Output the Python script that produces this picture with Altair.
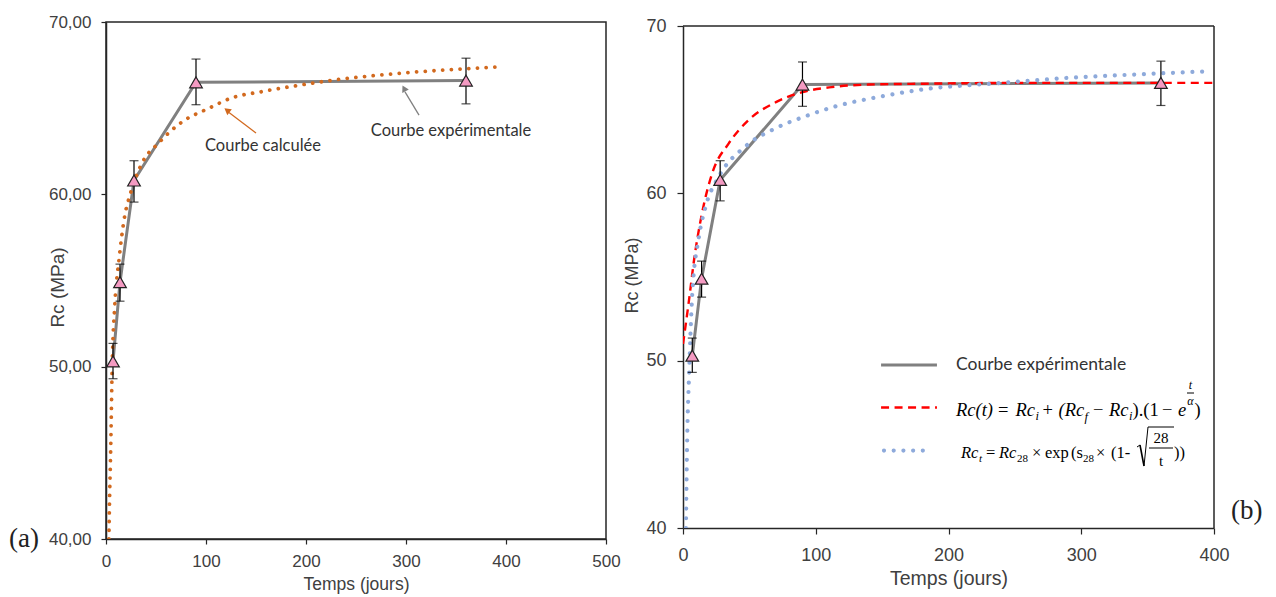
import altair as alt
import pandas as pd

# ---------------- data ----------------
days = [7, 14, 28, 90, 360]
rc_exp = [50.3, 54.9, 60.8, 66.5, 66.6]
rc_lo = [49.3, 53.8, 59.55, 65.2, 65.25]
rc_hi = [51.35, 55.95, 61.95, 67.85, 67.9]

# left panel: calculated curve (orange dotted)
calc_t = [2.9, 3.3, 4.7, 6.3, 8.7, 13, 18, 24.7, 36, 53, 76, 103, 126, 155, 190, 230, 270, 310, 350, 395]
calc_v = [40.0, 41.5, 45.2, 50.3, 53.5, 56.2, 58.5, 60.1, 61.8, 63.0, 64.2, 65.0, 65.6, 65.95, 66.3, 66.65, 66.9, 67.1, 67.25, 67.4]

# right panel: exponential model (red dashed)
red_t = [0, 4.5, 8.3, 14.3, 22, 34.6, 49.7, 70, 90, 112, 140, 180, 250, 320, 400]
red_v = [51.0, 53.6, 56.0, 58.8, 61.2, 63.0, 64.4, 65.45, 66.05, 66.35, 66.5, 66.55, 66.6, 66.6, 66.6]

# right panel: sqrt model (blue dotted)
blue_t = [2.2, 3.2, 4.5, 7, 12, 17, 27, 47, 70, 92, 115, 150, 180, 240, 290, 340, 398]
blue_v = [40.0, 45.5, 49.0, 54.0, 57.4, 59.2, 61.0, 62.8, 63.9, 64.6, 65.2, 65.8, 66.2, 66.6, 66.9, 67.1, 67.3]

left_x_ticks = [0, 100, 200, 300, 400, 500]
right_x_ticks = [0, 100, 200, 300, 400]
y_ticks = [40, 50, 60, 70]

GRAY = "#808080"
ORANGE = "#d2691e"
RED = "#ff0000"
BLUE = "#8eaadb"
PINK = "#f49ac2"
INK = "#404040"
FRAME = "#262626"

exp_df = pd.DataFrame({"t": days, "v": rc_exp, "lo": rc_lo, "hi": rc_hi})
calc_df = pd.DataFrame({"t": calc_t, "v": calc_v})
red_df = pd.DataFrame({"t": red_t, "v": red_v})
blue_df = pd.DataFrame({"t": blue_t, "v": blue_v})
ONE = pd.DataFrame({"k": [0]})


def make_x(domain, ticks, lab, tit, lpad, ty, tsize):
    scale = alt.Scale(domain=domain, nice=False, zero=False)
    axis = alt.Axis(values=ticks, title="Temps (jours)", grid=False, labelFlush=False,
                    labelFont="Liberation Sans", titleFont="Liberation Sans",
                    labelFontSize=lab, titleFontSize=tit, titleFontWeight="normal",
                    labelColor=INK, titleColor=INK, tickColor=FRAME, domainColor=FRAME,
                    domainWidth=1.5, tickSize=tsize, tickWidth=1.2, labelPadding=lpad,
                    titleY=ty, titleBaseline="middle")
    return scale, axis


def make_y(ticks, lab, tit, lpad, tx, ty, tsize, rng=None, label_expr=None):
    if rng:
        scale = alt.Scale(domain=[40, 70], nice=False, zero=False, range=rng)
    else:
        scale = alt.Scale(domain=[40, 70], nice=False, zero=False)
    kw = dict(values=ticks, title="Rc (MPa)", grid=False, labelFlush=False,
              labelFont="Liberation Sans", titleFont="Liberation Sans",
              labelFontSize=lab, titleFontSize=tit, titleFontWeight="normal",
              labelColor=INK, titleColor=INK, tickColor=FRAME, domainColor=FRAME,
              domainWidth=1.5, tickSize=tsize, tickWidth=1.2, labelPadding=lpad,
              titleX=tx, titleY=ty, titleBaseline="middle")
    if label_expr:
        kw["labelExpr"] = label_expr
    return scale, alt.Axis(**kw)


def txt(s, x, y, size, font="Liberation Serif", style="italic", align="left",
        baseline="alphabetic", color="#000000"):
    return alt.Chart(ONE).mark_text(text=s, font=font, fontSize=size, fontStyle=style,
                                    align=align, baseline=baseline, color=color
                                    ).encode(x=alt.value(x), y=alt.value(y))


def seg(x1, y1, x2, y2, color="#000000", width=1.0):
    return alt.Chart(ONE).mark_rule(color=color, strokeWidth=width).encode(
        x=alt.value(x1), y=alt.value(y1), x2=alt.value(x2), y2=alt.value(y2))


def panel_layers(xs, xa, ys, ya, curves):
    X = lambda f: alt.X(f, type="quantitative", scale=xs, axis=xa)
    Y = lambda f: alt.Y(f, type="quantitative", scale=ys, axis=ya)
    exp_line = alt.Chart(exp_df).mark_line(color=GRAY, strokeWidth=3).encode(x=X("t"), y=Y("v"))
    layers = [exp_line]
    for df, style in curves:
        layers.append(alt.Chart(df).mark_line(clip=True, interpolate="monotone", **style)
                      .encode(x=X("t"), y=Y("v")))
    bars = alt.Chart(exp_df).mark_rule(color="#000000", strokeWidth=1.2).encode(
        x=X("t"), y=Y("lo"), y2="hi")
    cap_lo = alt.Chart(exp_df).mark_tick(color="#000000", orient="horizontal", size=9,
                                         thickness=1.2).encode(x=X("t"), y=Y("lo"))
    cap_hi = alt.Chart(exp_df).mark_tick(color="#000000", orient="horizontal", size=9,
                                         thickness=1.2).encode(x=X("t"), y=Y("hi"))
    tri = alt.Chart(exp_df).mark_point(shape="triangle-up", filled=True, fill=PINK,
                                       stroke="#222222", strokeWidth=1.2, size=160,
                                       opacity=1).encode(x=X("t"), y=Y("v"))
    return layers + [bars, cap_lo, cap_hi, tri], X, Y


# ---------------- left panel ----------------
lxs, lxa = make_x([0, 500], left_x_ticks, 17, 17.5, 9, 45, 5)
lys, lya = make_y(y_ticks, 17, 19, 10, -49, 265, 5,
                  label_expr="replace(format(datum.value, '.2f'), '.', ',')")
orange_style = dict(color=ORANGE, strokeWidth=3.8, strokeDash=[0.01, 8.7], strokeCap="round")
llayers, LX, LY = panel_layers(lxs, lxa, lys, lya, [(calc_df, orange_style)])

ann_left = pd.DataFrame({"t": [157, 345], "v": [62.8, 63.67],
                         "label": ["Courbe calculée", "Courbe expérimentale"]})
arrow_df = pd.DataFrame({"t": [150, 313], "v": [63.56, 64.6], "t2": [123, 299], "v2": [64.75, 65.95]})
head_o = pd.DataFrame({"t": [121], "v": [64.88]})
head_g = pd.DataFrame({"t": [298], "v": [66.15]})

left_ann = [
    alt.Chart(ann_left).mark_text(font="Lato", fontSize=16.5, color="#333333").encode(
        x=LX("t"), y=LY("v"), text="label:N"),
    alt.Chart(arrow_df.iloc[[0]]).mark_rule(color=ORANGE, strokeWidth=1.3).encode(
        x=LX("t"), y=LY("v"), x2="t2", y2="v2"),
    alt.Chart(arrow_df.iloc[[1]]).mark_rule(color=GRAY, strokeWidth=1.3).encode(
        x=LX("t"), y=LY("v"), x2="t2", y2="v2"),
    alt.Chart(head_o).mark_point(shape="triangle-up", filled=True, color=ORANGE, size=55,
                                 angle=307, opacity=1).encode(x=LX("t"), y=LY("v")),
    alt.Chart(head_g).mark_point(shape="triangle-up", filled=True, color=GRAY, size=55,
                                 angle=332, opacity=1).encode(x=LX("t"), y=LY("v")),
    txt("(a)", -97, 517, 27, style="normal", baseline="middle", color="#222222"),
]
left = alt.layer(*(llayers + left_ann)).properties(width=500, height=517)

# ---------------- right panel ----------------
OFF = 4          # plot area starts 4px below the panel origin
RW, RH = 531, 506
rxs, rxa = make_x([0, 400], right_x_ticks, 18, 19.5, 12, 50, 6)
rys, rya = make_y(y_ticks, 18, 18, 11, -51, 253, 6, rng=[RH, OFF])
red_style = dict(color=RED, strokeWidth=2.4, strokeDash=[8, 5.5])
blue_style = dict(color=BLUE, strokeWidth=4.2, strokeDash=[0.01, 9.7], strokeCap="round")
rlayers, RX, RY = panel_layers(rxs, rxa, rys, rya, [(red_df, red_style), (blue_df, blue_style)])

leg_gray = pd.DataFrame({"t": [149.2], "v": [49.74], "t2": [191.3]})
leg_red = pd.DataFrame({"t": [149.2, 191.3], "v": [47.2, 47.2]})
leg_blue = pd.DataFrame({"t": [151.4, 187.6], "v": [44.63, 44.63]})

right_ann = [
    # frame (top and right sides)
    seg(0, OFF, RW, OFF, color=FRAME, width=1.5),
    seg(RW, OFF, RW, RH, color=FRAME, width=1.5),
    alt.Chart(leg_gray).mark_rule(color=GRAY, strokeWidth=3).encode(
        x=RX("t"), y=RY("v"), x2="t2"),
    alt.Chart(leg_red).mark_line(**red_style).encode(x=RX("t"), y=RY("v")),
    alt.Chart(leg_blue).mark_line(**blue_style).encode(x=RX("t"), y=RY("v")),
    txt("Courbe expérimentale", 273, 339 + OFF, 17.5, font="Lato", style="normal",
        baseline="middle", color="#333333"),
    txt("(b)", 548, 485 + OFF, 27, style="normal", baseline="middle", color="#222222"),
]

# formula line 2 : Rc(t) = Rc_i + (Rc_f - Rc_i).(1 - e^(t/alpha))
B2, S2 = 390 + OFF, 394 + OFF
M2, s2 = 18.5, 12.5
f2 = [
    ("Rc(t)", 273, B2, M2, "italic"), ("=", 315, B2, M2, "normal"),
    ("Rc", 332.5, B2, M2, "italic"), ("i", 352.5, S2, s2, "italic"),
    ("+", 359.5, B2, M2, "normal"), ("(Rc", 375.5, B2, M2, "italic"),
    ("f", 401.5, S2 + 1, s2, "italic"), ("−", 410, B2, M2, "normal"),
    ("Rc", 426, B2, M2, "italic"), ("i", 446, S2, s2, "italic"),
    (").(1", 449.5, B2, M2, "normal"), ("−", 479, B2, M2, "normal"),
    ("e", 495, B2, M2, "italic"), (")", 511.5, B2, M2, "normal"),
]
for s, x, y, sz, st in f2:
    right_ann.append(txt(s, x, y, sz, style=st))
right_ann += [txt("t", 507.5, 363 + OFF, 12, align="center"),
              seg(504, 367 + OFF, 511, 367 + OFF),
              txt("α", 507.5, 379 + OFF, 12, align="center")]

# formula line 3 : Rc_t = Rc_28 x exp(s_28 x (1 - sqrt(28/t)))
B3, S3 = 432 + OFF, 436 + OFF
M3, s3 = 16.5, 11
f3 = [
    ("Rc", 278, B3, M3, "italic"), ("t", 296, S3, s3, "italic"),
    ("=", 303, B3, M3, "normal"), ("Rc", 316, B3, M3, "italic"),
    ("28", 334, S3, s3, "normal"), ("×", 349, B3, M3, "normal"),
    ("exp", 362, B3, M3, "normal"), ("(s", 388, B3, M3, "normal"),
    ("28", 400, S3, s3, "normal"), ("×", 413, B3, M3, "normal"),
    ("(1-", 428, B3, M3, "normal"), ("))", 491, B3, M3, "normal"),
]
for s, x, y, sz, st in f3:
    right_ann.append(txt(s, x, y, sz, style=st))
right_ann += [
    seg(454, 421 + OFF, 457, 419 + OFF), seg(457, 419 + OFF, 461, 440 + OFF, width=1.6),
    seg(461, 440 + OFF, 465, 401 + OFF), seg(465, 401 + OFF, 491, 401 + OFF),
    txt("28", 478, 416.5 + OFF, 15, style="normal", align="center"),
    seg(466, 422 + OFF, 490, 422 + OFF),
    txt("t", 478, 440 + OFF, 15, style="normal", align="center"),
]

right = alt.layer(*(rlayers + right_ann)).properties(
    width=RW, height=RH, view=alt.ViewBackground(stroke="transparent"))

chart = alt.hconcat(left, right, spacing=1).properties(
    padding={"left": 0, "top": 4, "right": 0, "bottom": 0}
).configure_view(stroke=FRAME, strokeWidth=1.5)

chart.save("out.html", embed_options={"renderer": "svg", "actions": False})
